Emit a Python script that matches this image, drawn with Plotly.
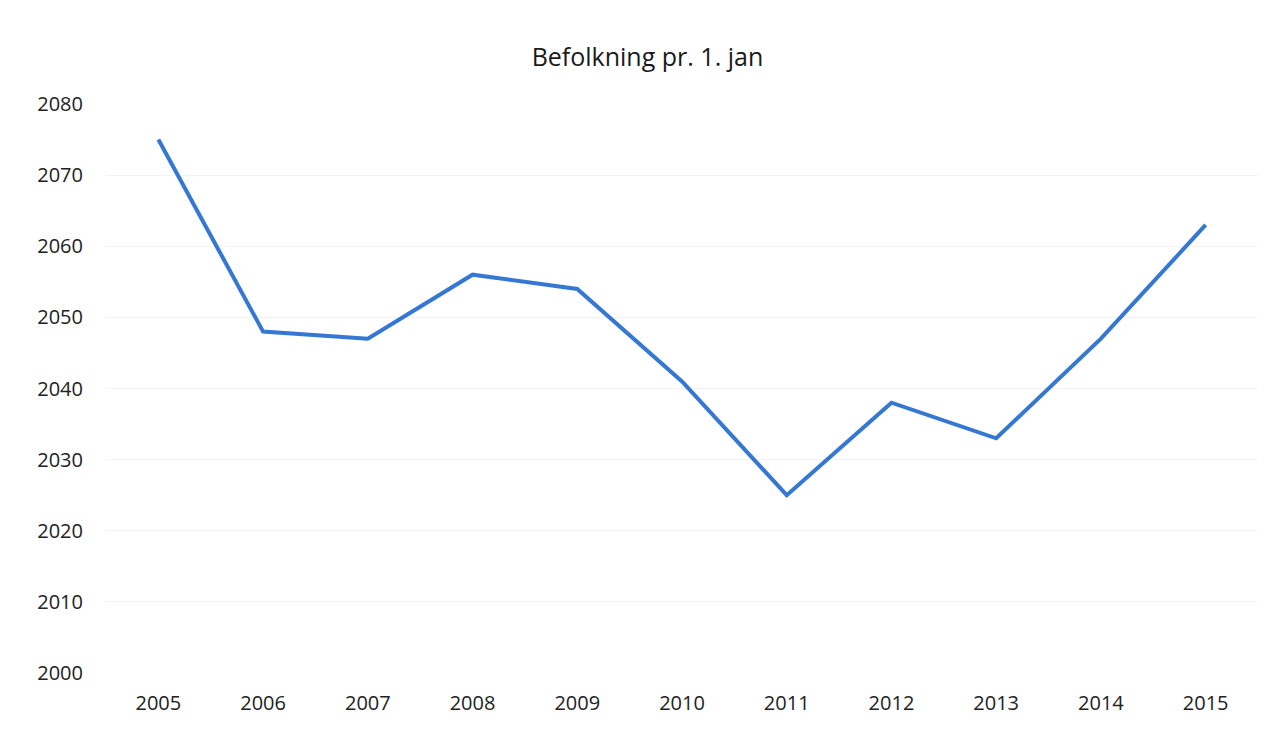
import plotly.graph_objects as go

years = ["2005", "2006", "2007", "2008", "2009", "2010", "2011", "2012", "2013", "2014", "2015"]
population = [2075, 2048, 2047, 2056, 2054, 2041, 2025, 2038, 2033, 2047, 2063]
y_ticks = [2000, 2010, 2020, 2030, 2040, 2050, 2060, 2070, 2080]
title_text = "Befolkning pr. 1. jan"

fig = go.Figure()
fig.add_trace(go.Scatter(
    x=years, y=population, mode="lines",
    line=dict(color="#3478d4", width=4),
    showlegend=False,
))

fig.update_layout(
    width=1267, height=737,
    paper_bgcolor="white", plot_bgcolor="white",
    margin=dict(l=98, r=17, t=96, b=72),
    font=dict(family="Open Sans, Liberation Sans, sans-serif", color="#222222", size=20),
    title=dict(text=title_text, x=0.47, xref="paper", xanchor="center",
               y=1 - 49 / 737, yanchor="middle", font=dict(size=25, color="#1a1a1a")),
)
fig.update_xaxes(
    type="category", range=[-0.5, 10.5], showgrid=False, showline=False,
    ticks="", tickfont=dict(size=20), ticklabelstandoff=16,
)
fig.update_yaxes(
    range=[2000, 2080], tickvals=y_ticks, showgrid=True, gridcolor="#f3f3f3",
    gridwidth=1, zeroline=False, showline=False, ticks="",
    tickfont=dict(size=20), ticklabelstandoff=22,
)

fig.write_html("out.html")
